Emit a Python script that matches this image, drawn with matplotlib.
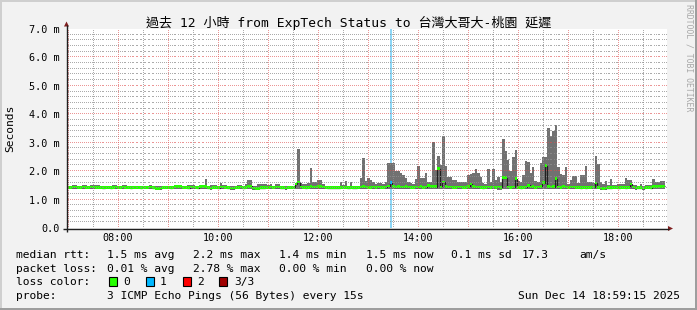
import numpy as np
import matplotlib
matplotlib.use("Agg")
import matplotlib.pyplot as plt
from matplotlib.patches import Rectangle, Polygon

# ============================================================================================================
# Data (rtt in milliseconds, one value per 3 minute bin)

t_start = 6 + 59.25 / 60     # 06:59:15, graph spans 12 hours
bin_hours = 0.05             # 3 minutes
nan = float("nan")

rtt_max = [
    1.49, 1.49, 1.52, 1.52, 1.49, 1.49, 1.52, 1.52, 1.49, 1.52, 1.52, 1.52, 1.52, 1.49, 1.49, 1.49, 1.49, 1.49, 1.52, 1.52,
    1.49, 1.49, 1.52, 1.52, 1.49, 1.49, 1.49, 1.49, 1.49, 1.49, 1.49, 1.49, 1.49, 1.52, 1.49, 1.48, 1.48, 1.49, 1.49, 1.49,
    1.49, 1.49, 1.49, 1.50, 1.52, 1.52, 1.49, 1.49, 1.52, 1.52, 1.52, 1.49, 1.49, 1.52, 1.52, 1.73, 1.49, 1.52, 1.52, 1.52,
    1.49, 1.60, 1.52, 1.52, 1.49, 1.49, 1.49, 1.49, 1.52, 1.52, 1.49, 1.55, 1.69, 1.69, 1.49, 1.48, 1.55, 1.55, 1.55, 1.55,
    1.52, 1.55, 1.49, 1.55, 1.55, 1.49, 1.49, 1.49, 1.49, 1.49, 1.49, 1.60, 2.78, 1.58, 1.55, 1.55, 1.60, 2.10, 1.63, 1.63,
    1.69, 1.69, 1.55, 1.49, 1.49, 1.47, 1.47, 1.47, 1.47, 1.62, 1.52, 1.66, 1.49, 1.62, 1.49, 1.49, 1.49, 1.75, 2.47, 1.66,
    1.77, 1.70, 1.63, 1.55, 1.60, 1.58, 1.55, 1.62, 2.30, 2.30, 2.28, 2.02, 2.00, 1.92, 1.85, 1.75, 1.62, 1.57, 1.55, 1.72,
    2.18, 1.75, 1.77, 1.95, 1.63, 1.63, 3.02, 2.05, 2.54, 2.20, 3.22, 2.17, 1.81, 1.78, 1.69, 1.69, 1.63, 1.62, 1.63, 1.63,
    1.85, 1.90, 1.95, 2.07, 1.92, 1.80, 1.60, 1.55, 2.06, 1.63, 2.06, 1.70, 1.80, 1.62, 3.13, 2.70, 2.40, 2.00, 2.48, 2.73,
    1.65, 1.62, 1.85, 2.35, 2.33, 1.95, 2.15, 1.65, 1.63, 2.28, 2.50, 2.48, 3.51, 3.22, 3.40, 3.63, 2.14, 1.90, 1.85, 2.16,
    1.55, 1.69, 1.84, 1.84, 1.60, 1.86, 1.86, 2.18, 1.63, 1.63, 1.60, 2.53, 2.25, 1.63, 1.55, 1.66, 1.50, 1.73, 1.52, 1.52,
    1.55, 1.55, 1.55, 1.77, 1.69, 1.69, 1.52, 1.52, 1.49, 1.55, 1.49, 1.52, 1.52, 1.52, 1.73, 1.63, 1.63, 1.66, 1.66, nan,
]

rtt_min = [
    1.37, 1.37, 1.36, 1.37, 1.37, 1.37, 1.37, 1.36, 1.37, 1.37, 1.37, 1.37, 1.36, 1.37, 1.37, 1.37, 1.37, 1.37, 1.37, 1.36,
    1.37, 1.37, 1.37, 1.37, 1.36, 1.37, 1.37, 1.37, 1.37, 1.37, 1.37, 1.37, 1.37, 1.37, 1.36, 1.34, 1.34, 1.35, 1.37, 1.37,
    1.37, 1.37, 1.37, 1.38, 1.38, 1.37, 1.37, 1.37, 1.36, 1.37, 1.37, 1.37, 1.36, 1.37, 1.37, 1.37, 1.36, 1.35, 1.37, 1.37,
    1.36, 1.37, 1.37, 1.37, 1.36, 1.35, 1.35, 1.37, 1.37, 1.37, 1.36, 1.37, 1.37, 1.37, 1.35, 1.34, 1.34, 1.36, 1.36, 1.37,
    1.37, 1.37, 1.37, 1.37, 1.37, 1.36, 1.36, 1.35, 1.37, 1.37, 1.37, 1.38, 1.36, 1.37, 1.37, 1.36, 1.37, 1.37, 1.37, 1.37,
    1.37, 1.37, 1.37, 1.37, 1.36, 1.36, 1.36, 1.36, 1.36, 1.37, 1.37, 1.37, 1.36, 1.37, 1.36, 1.36, 1.37, 1.37, 1.37, 1.37,
    1.37, 1.37, 1.37, 1.37, 1.37, 1.37, 1.37, 1.37, 1.38, 1.38, 1.38, 1.37, 1.37, 1.37, 1.37, 1.37, 1.37, 1.37, 1.37, 1.37,
    1.37, 1.37, 1.37, 1.37, 1.38, 1.37, 1.38, 1.37, 1.38, 1.37, 1.38, 1.37, 1.37, 1.37, 1.37, 1.37, 1.37, 1.37, 1.37, 1.37,
    1.37, 1.38, 1.37, 1.37, 1.37, 1.37, 1.36, 1.37, 1.37, 1.37, 1.37, 1.37, 1.34, 1.34, 1.38, 1.38, 1.37, 1.37, 1.37, 1.38,
    1.37, 1.36, 1.37, 1.37, 1.38, 1.37, 1.37, 1.37, 1.37, 1.37, 1.38, 1.38, 1.37, 1.37, 1.37, 1.38, 1.37, 1.37, 1.37, 1.37,
    1.37, 1.37, 1.37, 1.37, 1.37, 1.36, 1.37, 1.36, 1.37, 1.37, 1.37, 1.38, 1.37, 1.35, 1.34, 1.34, 1.36, 1.36, 1.37, 1.37,
    1.36, 1.37, 1.37, 1.36, 1.37, 1.38, 1.37, 1.35, 1.36, 1.36, 1.35, 1.37, 1.37, 1.36, 1.38, 1.38, 1.38, 1.38, 1.38, nan,
]

rtt_median = [
    1.43, 1.43, 1.44, 1.44, 1.43, 1.43, 1.44, 1.43, 1.43, 1.44, 1.44, 1.43, 1.43, 1.43, 1.42, 1.43, 1.43, 1.42, 1.43, 1.44,
    1.43, 1.43, 1.44, 1.43, 1.43, 1.42, 1.43, 1.43, 1.43, 1.42, 1.43, 1.43, 1.43, 1.44, 1.42, 1.40, 1.40, 1.41, 1.43, 1.43,
    1.43, 1.42, 1.43, 1.46, 1.46, 1.45, 1.43, 1.43, 1.42, 1.44, 1.44, 1.43, 1.42, 1.45, 1.45, 1.45, 1.42, 1.41, 1.43, 1.43,
    1.42, 1.44, 1.44, 1.43, 1.42, 1.41, 1.41, 1.43, 1.43, 1.44, 1.42, 1.43, 1.46, 1.46, 1.41, 1.40, 1.40, 1.42, 1.42, 1.43,
    1.43, 1.44, 1.43, 1.44, 1.44, 1.42, 1.42, 1.41, 1.43, 1.43, 1.43, 1.55, 1.62, 1.44, 1.43, 1.42, 1.43, 1.45, 1.44, 1.44,
    1.45, 1.45, 1.44, 1.43, 1.42, 1.42, 1.42, 1.42, 1.42, 1.43, 1.43, 1.43, 1.42, 1.43, 1.42, 1.42, 1.43, 1.44, 1.45, 1.44,
    1.43, 1.43, 1.44, 1.43, 1.44, 1.43, 1.43, 1.44, 1.48, 1.60, 1.45, 1.44, 1.45, 1.44, 1.44, 1.45, 1.44, 1.43, 1.43, 1.44,
    1.44, 1.45, 1.43, 1.44, 1.50, 1.45, 1.47, 1.45, 2.09, 1.44, 1.62, 1.45, 1.44, 1.44, 1.43, 1.43, 1.44, 1.44, 1.43, 1.43,
    1.45, 1.55, 1.45, 1.44, 1.44, 1.43, 1.42, 1.43, 1.44, 1.43, 1.44, 1.43, 1.44, 1.43, 1.77, 1.77, 1.44, 1.43, 1.44, 1.74,
    1.43, 1.42, 1.43, 1.44, 1.50, 1.44, 1.45, 1.43, 1.44, 1.45, 1.60, 2.19, 1.45, 1.44, 1.45, 1.74, 1.44, 1.43, 1.46, 1.44,
    1.43, 1.44, 1.44, 1.43, 1.43, 1.42, 1.43, 1.42, 1.43, 1.43, 1.44, 1.58, 1.43, 1.41, 1.40, 1.41, 1.42, 1.42, 1.43, 1.43,
    1.42, 1.43, 1.43, 1.42, 1.43, 1.55, 1.44, 1.41, 1.42, 1.42, 1.41, 1.43, 1.43, 1.42, 1.47, 1.47, 1.47, 1.47, 1.47, nan,
]

loss_bins = [129]            # bins where pings were lost
loss_counts = [1]            # lost pings (of 3)

hour_ticks = list(range(7, 19))
hour_labels = ["" if h % 2 else f"{h:02d}:00" for h in hour_ticks]
y_ticks = [0, 1, 2, 3, 4, 5, 6, 7]
y_labels = ["0.0"] + [f"{v:.1f} m" for v in y_ticks[1:]]

title = "過去 12 小時 from ExpTech Status to 台灣大哥大-桃園 延遲"
stamp = "Sun Dec 14 18:59:15 2025"
row_rtt = ["median rtt:", "1.5 ms avg", "2.2 ms max", "1.4 ms min", "1.5 ms now", "0.1 ms sd", "17.3", "am/s"]
row_loss = ["packet loss:", "0.01 % avg", "2.78 % max", "0.00 % min", "0.00 % now"]
loss_names = ["0", "1", "2", "3/3"]
loss_colors = ["#26ff00", "#00b8ff", "#ff0000", "#a00000"]
row_probe = ["probe:", "3 ICMP Echo Pings (56 Bytes) every 15s"]

# ============================================================================================================
# Layout (pixels of the 697x310 png), canvas edges on whole pixels so the dotted grid stays crisp

W, H, DPI = 697, 310, 100
PX_L, PX_R, PX_T, PX_B = 67, 667, 29, 228
col_x = [16, 107, 193, 279, 366, 451, 522, 579]
row_y = [258.3, 271.6, 285.0, 299.0]
box_x = [108.5, 145.5, 182.5, 218.5]
lbl_x = [123, 160, 197, 234]

plt.rcParams["font.family"] = ["DejaVu Sans Mono", "Noto Sans CJK TC"]

BACK = "#f2f2f2"
MINOR = (0.56, 0.56, 0.56, 0.75)
MAJOR = (0.87, 0.31, 0.31, 0.60)
ARROW = "#801f1f"
AXIS = "#1f1f1f"
SMOKE = "#717171"

fig = plt.figure(figsize=(W / DPI, H / DPI), dpi=DPI, facecolor=BACK)
ax = fig.add_axes([PX_L / W, 1 - PX_B / H, (PX_R - PX_L) / W, (PX_B - PX_T) / H])
ax.set_facecolor("white")

mx = np.array(rtt_max)
mn = np.array(rtt_min)
med = np.array(rtt_median)
edges = t_start + bin_hours * np.arange(len(mx) + 1)
loss = np.zeros(len(mx), dtype=int)
loss[loss_bins] = loss_counts

# loss background band
for b, c in zip(loss_bins, loss_counts):
    ax.axvspan(edges[b], edges[b + 1], color="#8cd6f6", lw=0, zorder=0.5)

# smoke (min..max of the 3 pings)
ax.stairs(mx, edges, baseline=mn, fill=True, color=SMOKE, lw=0, zorder=1)
# median as thin dark line, then loss-coloured band on top
ax.stairs(med, edges, baseline=None, color="#202020", lw=0.9, zorder=1.5)
half = 1.35 / ((PX_B - PX_T) / 7.0)
for lvl, col in enumerate(loss_colors):
    sel = np.where(loss == lvl, med, np.nan)
    if np.all(np.isnan(sel)):
        continue
    ax.stairs(sel + half, edges, baseline=sel - half, fill=True, color=col, lw=0, zorder=1.8)

ax.set_xlim(t_start, t_start + 12)
ax.set_ylim(0, 7)
ax.set_xticks(hour_ticks, hour_labels)
ax.set_yticks(y_ticks, y_labels)
ax.tick_params(which="both", length=0)
ax.tick_params(axis="x", pad=3.5, labelsize=7.3)
ax.tick_params(axis="y", pad=5, labelsize=7.3)
for s in ax.spines.values():
    s.set_visible(False)

# dotted grid (one pixel on, one off) drawn on top of the data like rrdtool
hpp = 12 / (PX_R - PX_L)          # hours per pixel
vpp = 7 / (PX_B - PX_T)           # ms per pixel
dots_x = t_start + hpp * (np.arange(0, PX_R - PX_L, 2) + 0.5)
dots_y = vpp * (np.arange(1, PX_B - PX_T, 2) + 0.5)
minor_y = [v for v in np.arange(0.2, 7.0, 0.2) if abs(v - round(v)) > 0.01]
minor_x = list(np.arange(7.5, 19, 1.0))


def dotted(xs_lines, ys_lines, color):
    for v in ys_lines:
        ax.plot(dots_x, np.full_like(dots_x, v), ",", color=color, zorder=3)
    for t in xs_lines:
        ax.plot(np.full_like(dots_y, t), dots_y, ",", color=color, zorder=3)


dotted(minor_x, minor_y, MINOR)
dotted(hour_ticks, y_ticks[1:], MAJOR)

# overlay in pixel coordinates for frame, arrows and legend
ov = fig.add_axes([0, 0, 1, 1], zorder=5)
ov.set_xlim(0, W)
ov.set_ylim(H, 0)
ov.axis("off")
ov.patch.set_visible(False)

ov.add_patch(Rectangle((0, 0), W, 2, color="#cfcfcf", lw=0))
ov.add_patch(Rectangle((0, 0), 2, H, color="#cfcfcf", lw=0))
ov.add_patch(Rectangle((0, H - 2.5), W, 2.5, color="#9e9e9e", lw=0))
ov.add_patch(Rectangle((W - 2.5, 0), 2.5, H, color="#9e9e9e", lw=0))

ov.plot([PX_L - 0.5, PX_L - 0.5], [PX_B + 4, 25], color=AXIS, lw=1.0, solid_capstyle="butt")
ov.plot([PX_L - 4, PX_R + 2], [PX_B + 0.5, PX_B + 0.5], color=AXIS, lw=1.0, solid_capstyle="butt")
ov.add_patch(Polygon([(PX_L - 3, 26.5), (PX_L + 2, 26.5), (PX_L - 0.5, 21.5)], color=ARROW, lw=0))
ov.add_patch(Polygon([(PX_R + 1, PX_B - 2), (PX_R + 1, PX_B + 3), (PX_R + 6, PX_B + 0.5)], color=ARROW, lw=0))

ov.text(W / 2, 26.5, title, ha="center", va="baseline", fontsize=9.4)
ov.text(10, (PX_T + PX_B) / 2, "Seconds", rotation=90, ha="center", va="center", fontsize=8.1)
ov.text(688.5, 4, "RRDTOOL / TOBI OETIKER", rotation=-90, ha="center", va="top",
        fontsize=5.9, color="#a8a8a8")

lf = 8.1
for x, s in zip(col_x, row_rtt):
    ov.text(x, row_y[0], s, va="baseline", fontsize=lf)
for x, s in zip(col_x, row_loss):
    ov.text(x, row_y[1], s, va="baseline", fontsize=lf)
ov.text(col_x[0], row_y[2], "loss color:", va="baseline", fontsize=lf)
for bx, lx, s, c in zip(box_x, lbl_x, loss_names, loss_colors):
    ov.add_patch(Rectangle((bx, 276.5), 8, 9, facecolor=c, edgecolor="black", lw=0.8))
    ov.text(lx, row_y[2], s, va="baseline", fontsize=lf)
for x, s in zip(col_x, row_probe):
    ov.text(x, row_y[3], s, va="baseline", fontsize=lf)
ov.text(680, row_y[3], stamp, ha="right", va="baseline", fontsize=lf)

fig.savefig("out.png", dpi=DPI, facecolor=BACK)
